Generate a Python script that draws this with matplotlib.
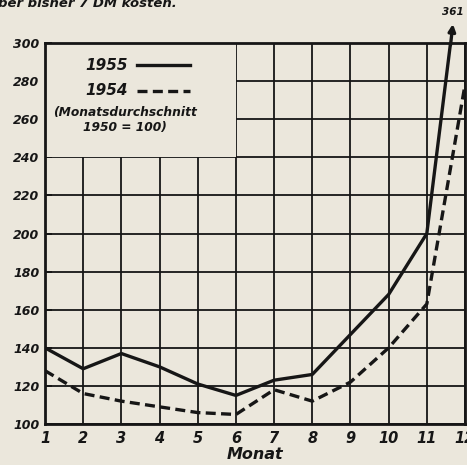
import numpy as np
import matplotlib
matplotlib.use("Agg")
import matplotlib.pyplot as plt
from matplotlib.patches import Rectangle

# Werte (Monatsdurchschnitt 1950 = 100)
monate = np.arange(1, 13)
werte_1955 = [140, 129, 137, 130, 121, 115, 123, 126, 147, 168, 200, 361]
werte_1954 = [128, 116, 112, 109, 106, 105, 118, 112, 122, 140, 163, 278]
y_ticks = [100, 120, 140, 160, 180, 200, 220, 240, 260, 280, 300]

paper = "#ebe7dc"
ink = "#161616"
fnt = dict(family="DejaVu Sans", weight="bold", style="italic", color=ink)
dash = (0, (3.0, 1.6))

fig = plt.figure(figsize=(4.67, 4.65), dpi=100, facecolor=paper)
ax = fig.add_axes([45 / 467, 41 / 465, 420 / 467, 381 / 465])
ax.set_facecolor(paper)

ax.set_xlim(1, 12)
ax.set_ylim(100, 300)
ax.set_xticks(monate)
ax.set_yticks(y_ticks)
ax.grid(True, color=ink, lw=1.3, zorder=0)
ax.set_axisbelow(True)

# Legendenfeld verdeckt das Gitter oben links
ax.add_patch(Rectangle((1, 240), 5, 60, facecolor=paper, edgecolor="none", zorder=1))

for s in ax.spines.values():
    s.set_linewidth(2.0)
    s.set_color(ink)

ax.tick_params(axis="y", direction="in", length=5, width=1.4, color=ink, pad=4)
ax.tick_params(axis="x", direction="in", length=0, pad=5)
ax.set_yticklabels([str(v) for v in y_ticks], fontsize=9, **fnt)
ax.set_xticklabels([str(m) for m in monate], fontsize=10.5, **fnt)
ax.set_xlabel("Monat", fontsize=11.5, labelpad=1, **fnt)

ax.plot(monate, werte_1955, color=ink, lw=2.4, zorder=3, solid_joinstyle="round")
ax.plot(monate, werte_1954, color=ink, lw=2.4, ls=dash, zorder=3)

# Pfeil fuer den Dezemberwert ausserhalb der Skala
x300 = np.interp(300, werte_1955[10:], monate[10:])
x310 = np.interp(310, werte_1955[10:], monate[10:])
ax.annotate("", xy=(x310, 310), xytext=(x300, 299), annotation_clip=False,
            arrowprops=dict(arrowstyle="-|>", color=ink, lw=2.4, mutation_scale=10,
                            shrinkA=0, shrinkB=0))
ax.text(x310, 313.5, str(werte_1955[-1]), ha="center", va="bottom", fontsize=7.5,
        clip_on=False, **fnt)

# Legende
ax.text(2.05, 288, "1955", ha="left", va="center", fontsize=11, **fnt)
ax.plot([3.4, 4.8], [288.5, 288.5], color=ink, lw=2.4)
ax.text(2.05, 275, "1954", ha="left", va="center", fontsize=11, **fnt)
ax.plot([3.4, 4.8], [275, 275], color=ink, lw=2.4, ls=dash)
ax.text(3.1, 263.5, "(Monatsdurchschnitt", ha="center", va="center", fontsize=8.8, **fnt)
ax.text(3.1, 255.5, "1950 = 100)", ha="center", va="center", fontsize=8.8, **fnt)

# angeschnittene Textzeile oben
fig.text(-0.005, 1 - 7 / 465, "ber bisher 7 DM kosten.", ha="left", va="baseline",
         fontsize=9.5, **fnt)

fig.savefig("out.png", dpi=100, facecolor=paper)
